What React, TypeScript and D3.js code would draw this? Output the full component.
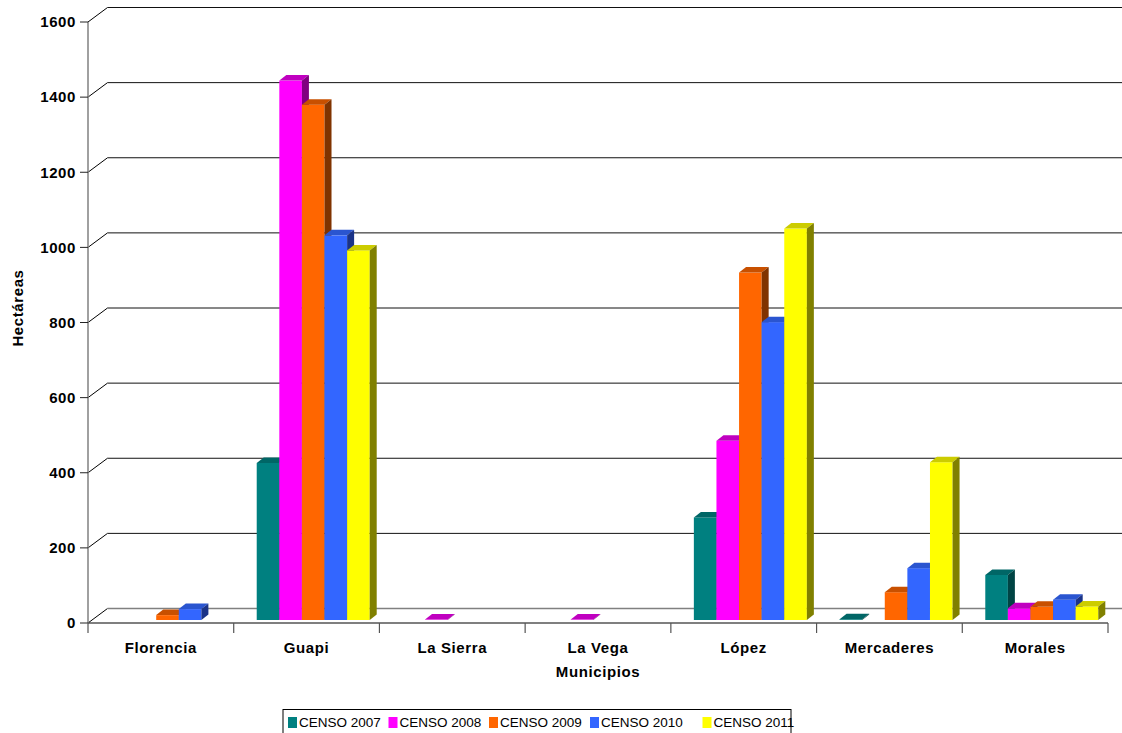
import React from 'react';
import * as d3 from 'd3';

const categories = ['Florencia', 'Guapi', 'La Sierra', 'La Vega', 'López', 'Mercaderes', 'Morales'];
const seriesNames = ['CENSO 2007', 'CENSO 2008', 'CENSO 2009', 'CENSO 2010', 'CENSO 2011'];
const censo2007: (number | null)[] = [null, 418, null, null, 273, 2, 120];
const censo2008: (number | null)[] = [null, 1436, 1, 1, 477, null, 31];
const censo2009: (number | null)[] = [13, 1372, null, null, 925, 74, 35];
const censo2010: (number | null)[] = [29, 1024, null, null, 793, 138, 54];
const censo2011: (number | null)[] = [null, 984, null, null, 1042, 420, 36];
const yTicks = [0, 200, 400, 600, 800, 1000, 1200, 1400, 1600];

const seriesValues = [censo2007, censo2008, censo2009, censo2010, censo2011];
const frontColors = ['#008080', '#FF00FF', '#FF6600', '#3366FF', '#FFFF00'];
const topColors = ['#006666', '#C000C0', '#C85000', '#2A55D0', '#CCCC00'];
const sideColors = ['#004444', '#800080', '#803300', '#1A3388', '#808000'];

const W = 1122;
const H = 733;
const X0 = 88;
const X1 = 1108;
const WALL_DX = 19.5;
const WALL_DY = 14.5;
const BAR_DX = 7;
const BAR_DY = 5.5;
const FONT = 'Liberation Sans, Arial, sans-serif';

export default function App() {
  const x0 = d3.scaleBand<string>().domain(categories).range([X0, X1]).paddingInner(0).paddingOuter(0);
  const x1 = d3.scaleBand<string>().domain(seriesNames).range([23, 23 + 113]).padding(0);
  const yFront = d3.scaleLinear().domain([0, 1600]).range([623, 22]);
  const yBar = d3.scaleLinear().domain([0, 1600]).range([620, 620 - 601]);

  const bars: React.ReactNode[] = [];
  categories.forEach((cat, ci) => {
    seriesNames.forEach((s, si) => {
      const v = seriesValues[si][ci];
      if (v === null || v === undefined) return;
      const xl = (x0(cat) as number) + (x1(s) as number);
      const bw = x1.bandwidth();
      const xr = xl + bw;
      const yb = yBar(0);
      const yt = yBar(v);
      bars.push(
        <g key={`${ci}-${si}`}>
          <rect x={xl} y={yt} width={bw} height={Math.max(0, yb - yt)} fill={frontColors[si]} />
          <path
            d={`M${xl},${yt} L${xl + BAR_DX},${yt - BAR_DY} L${xr + BAR_DX},${yt - BAR_DY} L${xr},${yt} Z`}
            fill={topColors[si]}
          />
          <path
            d={`M${xr},${yt} L${xr + BAR_DX},${yt - BAR_DY} L${xr + BAR_DX},${yb - BAR_DY} L${xr},${yb} Z`}
            fill={sideColors[si]}
          />
        </g>
      );
    });
  });

  const catTicks = d3.range(categories.length + 1).map((i) => X0 + i * x0.step());

  return (
    <svg width={W} height={H} style={{ position: 'absolute', left: 0, top: 0, background: '#fff' }}>
      <rect x={0} y={0} width={W} height={H} fill="#fff" />
      {/* back gridlines */}
      {yTicks.map((t) => {
        const y = yFront(t);
        const isZero = t === 0;
        return (
          <g key={`g${t}`}>
            <line x1={X0} y1={y} x2={X0 + WALL_DX} y2={y - WALL_DY} stroke="#000" strokeWidth={1} />
            <line
              x1={X0 + WALL_DX}
              y1={y - WALL_DY}
              x2={W}
              y2={y - WALL_DY}
              stroke={isZero ? '#808080' : '#111'}
              strokeWidth={isZero ? 1.5 : 1}
            />
          </g>
        );
      })}
      {/* floor front line */}
      <line x1={X0} y1={yFront(0)} x2={X1} y2={yFront(0)} stroke="#000" strokeWidth={1.2} />
      {/* y axis */}
      <line x1={X0} y1={yFront(1600)} x2={X0} y2={yFront(0)} stroke="#808080" strokeWidth={1.5} />
      {yTicks.map((t) => (
        <g key={`t${t}`}>
          <line x1={X0 - 8} y1={yFront(t)} x2={X0} y2={yFront(t)} stroke="#222" strokeWidth={1} />
          <text
            x={X0 - 12}
            y={yFront(t)}
            dy="0.35em"
            textAnchor="end"
            fontFamily={FONT}
            fontWeight="bold"
            fontSize={15}
            letterSpacing={0.6}
            fill="#000"
          >
            {t}
          </text>
        </g>
      ))}
      {/* category ticks */}
      {catTicks.map((x, i) => (
        <line key={`c${i}`} x1={x} y1={yFront(0)} x2={x} y2={yFront(0) + 10} stroke="#555" strokeWidth={1.2} />
      ))}
      {categories.map((c) => (
        <text
          key={`l${c}`}
          x={(x0(c) as number) + x0.bandwidth() / 2}
          y={653}
          textAnchor="middle"
          fontFamily={FONT}
          fontWeight="bold"
          fontSize={15}
          letterSpacing={0.6}
          fill="#000"
        >
          {c}
        </text>
      ))}
      {bars}
      <text
        x={(X0 + X1) / 2}
        y={677}
        textAnchor="middle"
        fontFamily={FONT}
        fontWeight="bold"
        fontSize={15}
        letterSpacing={0.6}
        fill="#000"
      >
        Municipios
      </text>
      <text
        transform={`translate(23,308) rotate(-90)`}
        textAnchor="middle"
        fontFamily={FONT}
        fontWeight="bold"
        fontSize={15}
        letterSpacing={0.6}
        fill="#000"
      >
        Hectáreas
      </text>
      {/* legend */}
      <rect x={283} y={709.5} width={508} height={24} fill="#fff" stroke="#000" strokeWidth={1} />
      {seriesNames.map((s, i) => {
        const xs = [288, 388.5, 489, 590, 702.5][i];
        return (
          <g key={`lg${s}`}>
            <rect x={xs} y={717} width={9} height={11} fill={frontColors[i]} />
            <text x={xs + 11} y={727} fontFamily={FONT} fontSize={13.5} fill="#000">
              {s}
            </text>
          </g>
        );
      })}
    </svg>
  );
}
